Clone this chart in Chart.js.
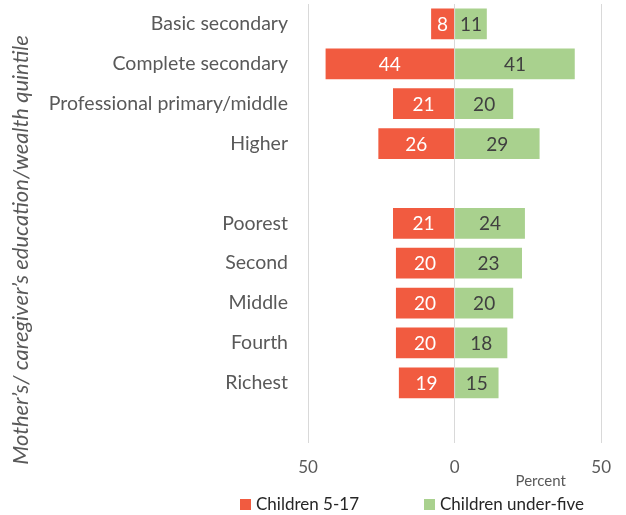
<!DOCTYPE html>
<html>
<head>
<meta charset="utf-8">
<script src="https://cdn.jsdelivr.net/npm/chart.js@4"></script>
<style>
  html, body { margin: 0; padding: 0; background: #fff; }
  #wrap { width: 626px; height: 515px; position: relative; }
</style>
</head>
<body>
<div id="wrap"><canvas id="chart"></canvas></div>
<script>
// categories (blank entries are gaps in the original chart)
const categories = ['Basic secondary', 'Complete secondary', 'Professional primary/middle', 'Higher', '',
  'Poorest', 'Second', 'Middle', 'Fourth', 'Richest', ''];
const olderChildren = [8, 44, 21, 26, null, 21, 20, 20, 20, 19, null];   // Children 5-17 (drawn to the left)
const underFive = [11, 41, 20, 29, null, 24, 23, 20, 18, 15, null];      // Children under-five
const seriesNames = ['Children 5-17', 'Children under-five'];
const xTicks = [-50, 0, 50];
const yTitle = 'Mother\u2019s/ caregiver\u2019s education/wealth quintile';

const RED = '#F15B40';
const GREEN = '#A9D18E';
const GREY = '#595959';
const FONT = 'Lato, "Open Sans", sans-serif';

// value labels inside the bars
const barLabels = {
  id: 'barLabels',
  afterDatasetsDraw(chart) {
    const ctx = chart.ctx;
    ctx.save();
    ctx.font = '19px ' + FONT;
    ctx.textAlign = 'center';
    ctx.textBaseline = 'middle';
    chart.data.datasets.forEach((ds, i) => {
      const meta = chart.getDatasetMeta(i);
      ctx.fillStyle = i === 0 ? '#ffffff' : '#404040';
      meta.data.forEach((bar, j) => {
        const v = ds.data[j];
        if (v === null) return;
        ctx.fillText(Math.abs(v), (bar.x + bar.base) / 2, bar.y + 1);
      });
    });
    ctx.restore();
  }
};

// axis title, "Percent" note and legend
const extras = {
  id: 'extras',
  afterDraw(chart) {
    const ctx = chart.ctx;
    const area = chart.chartArea;
    ctx.save();
    ctx.fillStyle = GREY;
    ctx.textBaseline = 'middle';

    ctx.save();
    ctx.translate(21, 250);
    ctx.rotate(-Math.PI / 2);
    ctx.textAlign = 'center';
    ctx.font = 'italic 22px ' + FONT;
    ctx.fillText(yTitle, 0, 0);
    ctx.restore();

    ctx.textAlign = 'left';
    ctx.font = '15px ' + FONT;
    ctx.fillText('Percent', chart.scales.x.getPixelForValue(20.8), area.bottom + 39);

    const legendX = [240, 424];
    ctx.font = '17px ' + FONT;
    chart.data.datasets.forEach((ds, i) => {
      ctx.fillStyle = ds.backgroundColor;
      ctx.fillRect(legendX[i], 499, 11, 11);
      ctx.fillStyle = '#262626';
      ctx.fillText(ds.label, legendX[i] + 16, 505);
    });
    ctx.restore();
  }
};

new Chart(document.getElementById('chart'), {
  type: 'bar',
  data: {
    labels: categories,
    datasets: [{
      label: seriesNames[0],
      data: olderChildren.map(v => v === null ? null : -v),
      backgroundColor: RED,
      barPercentage: 0.77,
      categoryPercentage: 1
    }, {
      label: seriesNames[1],
      data: underFive,
      backgroundColor: GREEN,
      barPercentage: 0.77,
      categoryPercentage: 1
    }]
  },
  options: {
    indexAxis: 'y',
    responsive: true,
    maintainAspectRatio: false,
    animation: false,
    layout: { padding: { top: 4, right: 24, bottom: 22, left: 0 } },
    plugins: {
      legend: { display: false },
      tooltip: { enabled: false }
    },
    scales: {
      x: {
        min: -50,
        max: 50,
        afterBuildTicks: scale => { scale.ticks = xTicks.map(v => ({ value: v })); },
        grid: { color: '#D9D9D9', drawTicks: false },
        border: { display: false },
        ticks: {
          color: GREY,
          font: { family: FONT, size: 17 },
          padding: 15,
          callback: v => Math.abs(v)
        }
      },
      y: {
        stacked: true,
        grid: { display: false, drawTicks: false },
        border: { display: false },
        afterFit: scale => {
          scale.width = 308;
          scale.paddingTop = 0;
          scale.paddingBottom = 0;
        },
        ticks: {
          color: GREY,
          font: { family: FONT, size: 19.5 },
          padding: 20
        }
      }
    }
  },
  plugins: [barLabels, extras]
});
</script>
</body>
</html>
